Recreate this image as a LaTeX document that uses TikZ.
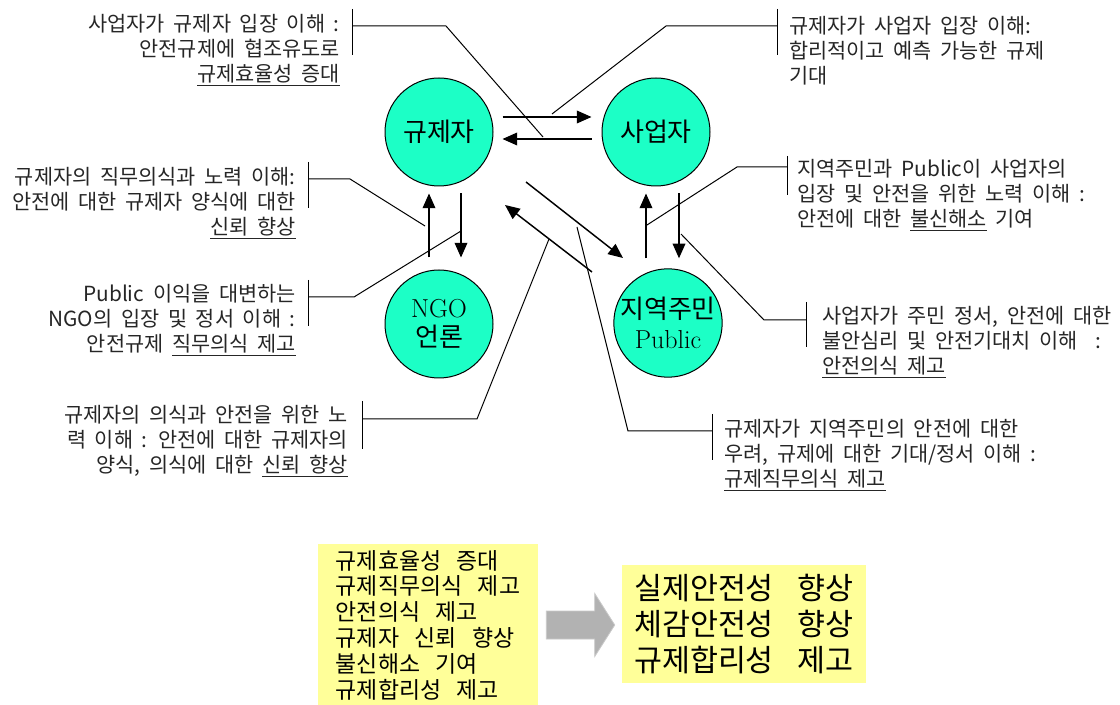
\documentclass[tikz,border=0pt]{standalone}
\usepackage{fontspec}
\newfontfamily\kor{Noto Sans CJK KR}
\usetikzlibrary{arrows.meta,calc}
\definecolor{cActor}{HTML}{1CFFC6}
\definecolor{cNote} {HTML}{FFFF99}
\definecolor{cBig}  {HTML}{B2B2B2}
\definecolor{cText} {HTML}{262626}

\begin{document}
\begin{tikzpicture}[
  x=0.75pt, y=-0.75pt,
  actor/.style={
    circle, draw=black, line width=0.75pt, fill=cActor,
    minimum size=81pt, inner sep=0pt, align=center,
    font=\fontsize{19.5}{22}\selectfont},
  ar/.style   ={-{Triangle[length=11pt,width=9.5pt]}, line width=1.1pt},
  lead/.style ={line width=0.75pt},
  note/.style ={inner sep=0pt, text=cText,
    font={\kor\fontsize{15.6}{18.75}\selectfont\spaceskip 0.42em\relax}},
  lnote/.style={note, anchor=east, align=right},
  rnote/.style={note, anchor=west, align=left},
  sumbox/.style={fill=cNote, inner sep=0pt, align=left},
  bigar/.style={draw=cBig!70, fill=cBig, line width=0.6pt},
]
\useasboundingbox (0,0) rectangle (1120,705);

% ---------------------------------------------------------------- actors
\node[actor] (reg) at (439,132) {\kor 규제자};
\node[actor] (biz) at (656,132) {\kor 사업자};
\node[actor] (ngo) at (439,324) {NGO\\\kor 언론};
\node[actor] (pub) at (668,323) {\kor 지역주민\\Public};

% ---------------------------------------------------------------- arrows
\draw[ar] ($(reg.east)+(9,-15)$)   -- ($(biz.west)+(-10,-15)$);
\draw[ar] ($(biz.west)+(-10,7)$)   -- ($(reg.east)+(9,7)$);
\draw[ar] ($(ngo.north)+(-10,-12)$) -- ($(reg.south)+(-10,7)$);
\draw[ar] ($(reg.south)+(22,7)$)   -- ($(ngo.north)+(22,-12)$);
\draw[ar] ($(pub.north)+(-22,-10)$) -- ($(biz.south)+(-10,7)$);
\draw[ar] ($(biz.south)+(23,7)$)   -- ($(pub.north)+(11,-10)$);
\draw[ar] ($(reg.center)+(87,50)$) -- ($(pub.center)+(-45,-65)$);
\draw[ar] ($(pub.center)+(-76,-51)$) -- ($(reg.center)+(66,73)$);

% ---------------------------------------------------------------- callouts, left side
\node[lnote] (n1) at (340,50)
  {사업자가 규제자 입장 이해 :\\안전규제에 협조유도로\\\underline{규제효율성 증대}};
\coordinate (b1t) at (352,9);  \coordinate (b1b) at (352,55);
\coordinate (k1) at (446,26);  \coordinate (e1) at (543,137);
\draw[lead] (b1t) -- (b1b);
\draw[lead] (b1t |- k1) -- (k1) -- (e1);

\node[lnote] (n3) at (296,203)
  {규제자의 직무의식과 노력 이해:\\안전에 대한 규제자 양식에 대한\\\underline{신뢰 향상}};
\coordinate (b3t) at (308,162); \coordinate (b3b) at (308,208);
\coordinate (k3) at (350,179);  \coordinate (e3) at (425,226);
\draw[lead] (b3t) -- (b3b);
\draw[lead] (b3t |- k3) -- (k3) -- (e3);

\node[lnote] (n4) at (296,320)
  {Public 이익을 대변하는\\NGO의 입장 및 정서 이해 :\\안전규제 \underline{직무의식 제고}};
\coordinate (b4t) at (308,280); \coordinate (b4b) at (308,326);
\coordinate (k4) at (354,297);  \coordinate (e4) at (461,231);
\draw[lead] (b4t) -- (b4b);
\draw[lead] (b4t |- k4) -- (k4) -- (e4);

\node[lnote] (n7) at (348,441)
  {규제자의 의식과 안전을 위한 노\\력 이해 : 안전에 대한 규제자의\\양식, 의식에 대한 \underline{신뢰 향상}};
\coordinate (b7t) at (362,401); \coordinate (b7b) at (362,449);
\coordinate (k7) at (477,419);  \coordinate (e7) at (549,239);
\draw[lead] (b7t) -- (b7b);
\draw[lead] (b7t |- k7) -- (k7) -- (e7);

% ---------------------------------------------------------------- callouts, right side
\node[rnote] (n2) at (789,51)
  {규제자가 사업자 입장 이해:\\합리적이고 예측 가능한 규제\\기대};
\coordinate (b2t) at (777,9);  \coordinate (b2b) at (777,55);
\coordinate (k2) at (666,26);  \coordinate (e2) at (552,114);
\draw[lead] (b2t) -- (b2b);
\draw[lead] (b2t |- k2) -- (k2) -- (e2);

\node[rnote] (n5) at (797,195)
  {지역주민과 Public이 사업자의\\입장 및 안전을 위한 노력 이해 :\\안전에 대한 \underline{불신해소} 기여};
\coordinate (b5t) at (787,156); \coordinate (b5b) at (787,195);
\coordinate (k5) at (737,167);  \coordinate (e5) at (647,225);
\draw[lead] (b5t) -- (b5b);
\draw[lead] (b5t |- k5) -- (k5) -- (e5);

\node[rnote] (n6) at (822,342)
  {사업자가 주민 정서, 안전에 대한\\불안심리 및 안전기대치 이해 ~:\\\underline{안전의식 제고}};
\coordinate (b6t) at (806,302); \coordinate (b6b) at (806,347);
\coordinate (k6) at (764,320);  \coordinate (e6) at (681,234);
\draw[lead] (b6t) -- (b6b);
\draw[lead] (b6t |- k6) -- (k6) -- (e6);

\node[rnote] (n8) at (724,455)
  {규제자가 지역주민의 안전에 대한\\우려, 규제에 대한 기대/정서 이해 :\\\underline{규제직무의식 제고}};
\coordinate (b8t) at (712,414); \coordinate (b8b) at (712,460);
\coordinate (k8) at (628,431);  \coordinate (e8) at (577,227);
\draw[lead] (b8t) -- (b8b);
\draw[lead] (b8t |- k8) -- (k8) -- (e8);

% ---------------------------------------------------------------- summary
\node[sumbox, minimum width=165pt, minimum height=122.25pt,
      font={\kor\fontsize{17.2}{19.35}\selectfont\spaceskip 0.68em\relax}] (sum) at (428,625)
  {규제효율성 증대\\규제직무의식 제고\\안전의식 제고\\규제자 신뢰 향상\\불신해소 기여\\규제합리성 제고};
\node[sumbox, minimum width=183pt, minimum height=88.5pt,
      font={\kor\fontsize{22.8}{27}\selectfont\spaceskip 0.79em\relax}] (res) at (744,624)
  {실제안전성 향상\\체감안전성 향상\\규제합리성 제고};

\path let \p1=($(sum.east)+(8,0)$), \p2=($(res.west)+(-7,0)$) in
  [bigar] (\x1,\y1-10.5pt) -- (\x2-15pt,\y1-10.5pt) -- (\x2-15pt,\y1-23.6pt)
  -- (\x2,\y1) -- (\x2-15pt,\y1+23.6pt) -- (\x2-15pt,\y1+10.5pt)
  -- (\x1,\y1+10.5pt) -- cycle;

\end{tikzpicture}
\end{document}
